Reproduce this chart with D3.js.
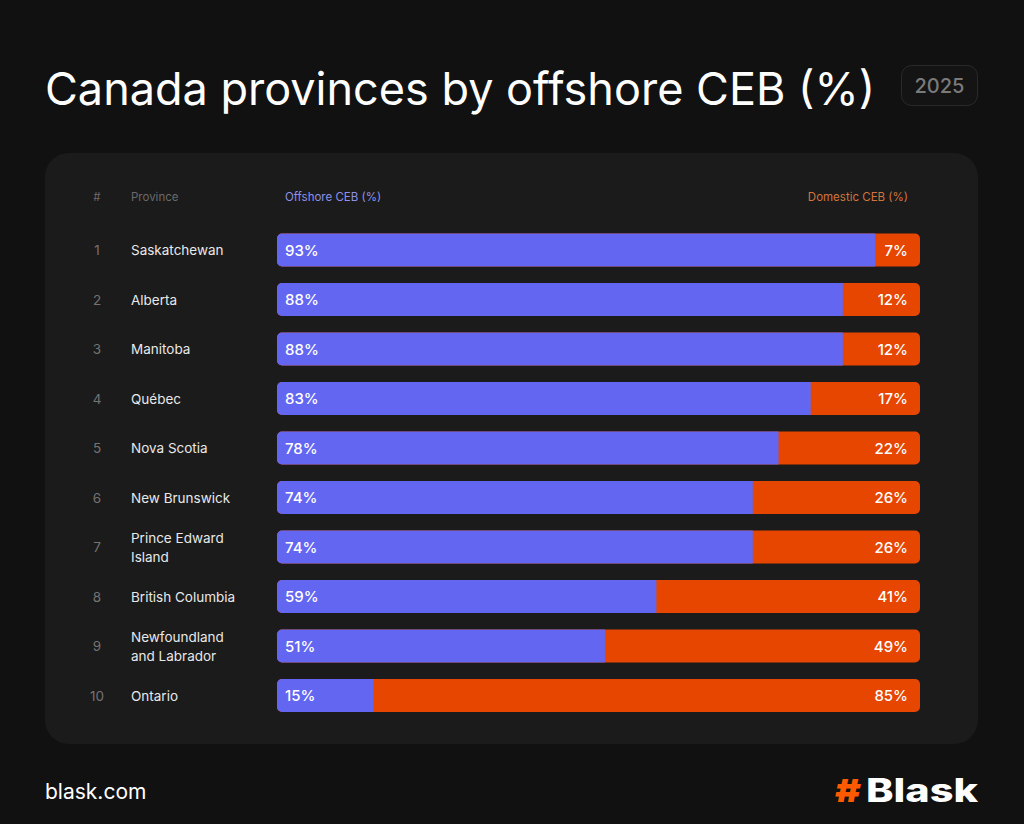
<!DOCTYPE html>
<html>
<head>
<meta charset="utf-8">
<script src="https://cdn.jsdelivr.net/npm/d3@7"></script>
<style>
  html, body { margin: 0; padding: 0; background: #111111; }
  body { width: 1024px; height: 824px; overflow: hidden; font-family: Inter, "Noto Sans", sans-serif; }
</style>
</head>
<body>
<script>
// data
const provinces = ["Saskatchewan", "Alberta", "Manitoba", "Québec", "Nova Scotia",
  "New Brunswick", "Prince Edward Island", "British Columbia", "Newfoundland and Labrador", "Ontario"];
const nameLines = [["Saskatchewan"], ["Alberta"], ["Manitoba"], ["Québec"], ["Nova Scotia"],
  ["New Brunswick"], ["Prince Edward", "Island"], ["British Columbia"], ["Newfoundland", "and Labrador"], ["Ontario"]];
const offshore = [93, 88, 88, 83, 78, 74, 74, 59, 51, 15];
const domestic = [7, 12, 12, 17, 22, 26, 26, 41, 49, 85];
const headers = ["#", "Province", "Offshore CEB (%)", "Domestic CEB (%)"];

const width = 1024, height = 824;
const blue = "#6366F1", orange = "#E64600";

const svg = d3.select("body").append("svg")
  .attr("width", width)
  .attr("height", height);

svg.append("rect").attr("width", width).attr("height", height).attr("fill", "#111111");

// title + year badge
svg.append("text")
  .attr("x", 45).attr("y", 105)
  .attr("fill", "#ffffff")
  .attr("font-size", 45)
  .attr("font-weight", 400)
  .text("Canada provinces by offshore CEB (%)");

svg.append("rect")
  .attr("x", 901.5).attr("y", 65.5).attr("width", 76).attr("height", 40).attr("rx", 10)
  .attr("fill", "#141414").attr("stroke", "#2a2a2a");
svg.append("text")
  .attr("x", 939.5).attr("y", 93)
  .attr("text-anchor", "middle")
  .attr("fill", "#7a7a7a")
  .attr("font-size", 20).attr("font-weight", 500)
  .text("2025");

// panel
svg.append("rect")
  .attr("x", 45).attr("y", 153).attr("width", 933).attr("height", 591).attr("rx", 24)
  .attr("fill", "#1b1b1b");

// scales
const x = d3.scaleLinear().domain([0, 100]).range([277, 920]);
const y = d3.scaleBand().domain(provinces).range([225.25, 720.25]).paddingInner(0.333).paddingOuter(0.1665);

// header row
const hy = 201;
svg.append("text").attr("x", 97).attr("y", hy).attr("text-anchor", "middle")
  .attr("fill", "#6a6a6a").attr("font-size", 11.5).text(headers[0]);
svg.append("text").attr("x", 131).attr("y", hy)
  .attr("fill", "#6a6a6a").attr("font-size", 11.5).text(headers[1]);
svg.append("text").attr("x", x(0) + 8).attr("y", hy)
  .attr("fill", "#8d90e8").attr("font-size", 11.5).text(headers[2]);
svg.append("text").attr("x", x(100) - 12).attr("y", hy).attr("text-anchor", "end")
  .attr("fill", "#d2743c").attr("font-size", 11.5).text(headers[3]);

const rows = svg.selectAll("g.row")
  .data(provinces.map((p, i) => ({ p, i, off: offshore[i], dom: domestic[i], lines: nameLines[i] })))
  .enter().append("g").attr("class", "row");

const cy = d => y(d.p) + y.bandwidth() / 2;

rows.append("text")
  .attr("x", 97).attr("y", d => cy(d) + 5)
  .attr("text-anchor", "middle")
  .attr("fill", "#737373").attr("font-size", 13.5)
  .text(d => d.i + 1);

rows.append("text")
  .attr("fill", "#e8e8e8").attr("font-size", 13.5)
  .each(function(d) {
    const t = d3.select(this);
    const n = d.lines.length;
    d.lines.forEach((l, k) => {
      t.append("tspan")
        .attr("x", 131)
        .attr("y", cy(d) + 5 + (k - (n - 1) / 2) * 19)
        .text(l);
    });
  });

// bars: rounded full bar in orange, blue on top with rounded left only
const r = 5;
rows.append("rect")
  .attr("x", x(0)).attr("y", d => y(d.p))
  .attr("width", x(100) - x(0)).attr("height", y.bandwidth())
  .attr("rx", r).attr("fill", orange);

rows.append("path")
  .attr("fill", blue)
  .attr("d", d => {
    const x0 = x(0), x1 = x(d.off), y0 = y(d.p), h = y.bandwidth();
    return `M${x1},${y0}H${x0 + r}A${r},${r} 0 0 0 ${x0},${y0 + r}V${y0 + h - r}A${r},${r} 0 0 0 ${x0 + r},${y0 + h}H${x1}Z`;
  });

rows.append("text")
  .attr("x", x(0) + 8).attr("y", d => cy(d) + 5.5)
  .attr("fill", "#ffffff").attr("font-size", 15).attr("font-weight", 500)
  .text(d => d.off + "%");

rows.append("text")
  .attr("x", x(100) - 12).attr("y", d => cy(d) + 5.5)
  .attr("text-anchor", "end")
  .attr("fill", "#ffffff").attr("font-size", 15).attr("font-weight", 500)
  .text(d => d.dom + "%");

// footer
svg.append("text")
  .attr("x", 45).attr("y", 799)
  .attr("fill", "#ffffff").attr("font-size", 21)
  .text("blask.com");

svg.append("text")
  .attr("x", 835).attr("y", 802)
  .attr("fill", "#ff5a00").attr("font-size", 32).attr("font-weight", 900)
  .attr("textLength", 26).attr("lengthAdjust", "spacingAndGlyphs")
  .text("#");
svg.append("text")
  .attr("x", 866).attr("y", 802)
  .attr("fill", "#ffffff").attr("font-size", 32).attr("font-weight", 800)
  .attr("textLength", 112).attr("lengthAdjust", "spacingAndGlyphs")
  .text("Blask");
</script>
</body>
</html>
